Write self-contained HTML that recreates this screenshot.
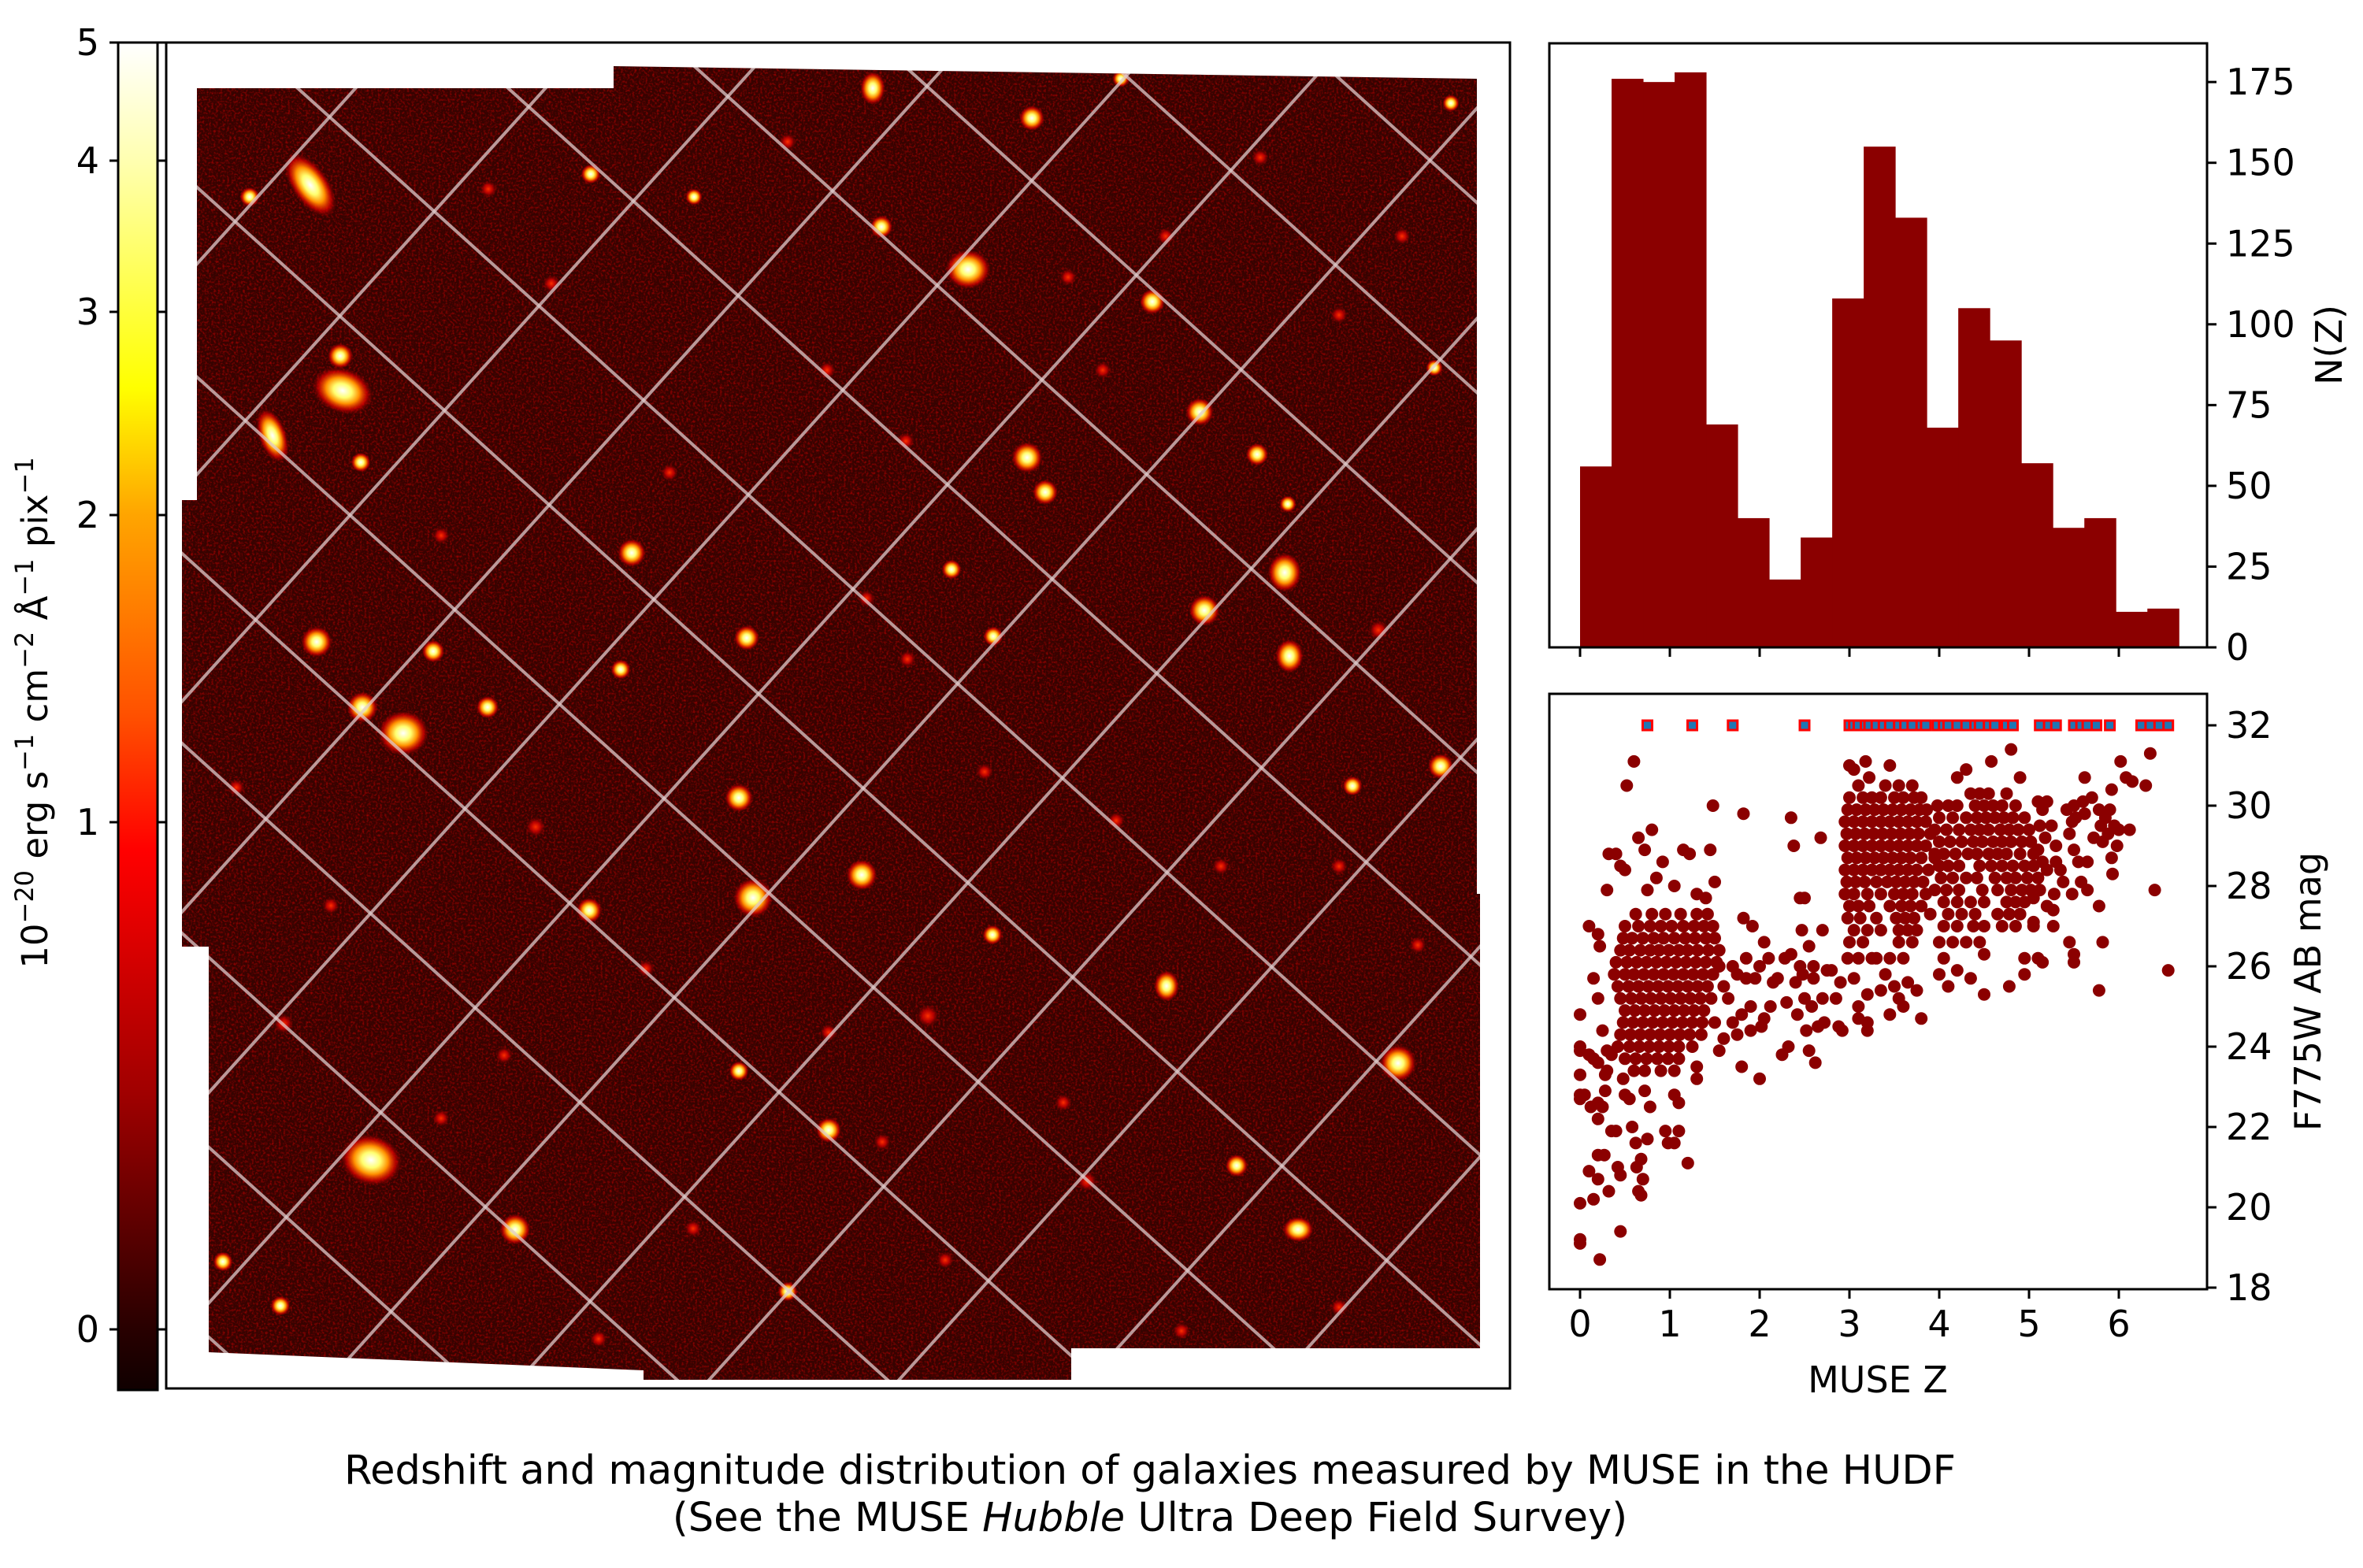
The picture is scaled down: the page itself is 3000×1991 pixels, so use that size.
<!DOCTYPE html>
<html><head><meta charset="utf-8">
<style>
html,body{margin:0;padding:0;background:#fff;width:3000px;height:1991px;overflow:hidden;}
svg{display:block;font-family:"DejaVu Sans","Liberation Sans",sans-serif;}
</style></head>
<body>
<svg id="fig" width="3000" height="1991" viewBox="0 0 3000 1991" xmlns="http://www.w3.org/2000/svg">
<defs>
<linearGradient id="cmap" x1="0" y1="0" x2="0" y2="1">
<stop offset="0" stop-color="#ffffff"/>
<stop offset="0.088" stop-color="#ffffb0"/>
<stop offset="0.256" stop-color="#ffff00"/>
<stop offset="0.35" stop-color="#ffa500"/>
<stop offset="0.5" stop-color="#ff5000"/>
<stop offset="0.6" stop-color="#ff0000"/>
<stop offset="0.78" stop-color="#a00000"/>
<stop offset="0.955" stop-color="#280000"/>
<stop offset="1" stop-color="#100000"/>
</linearGradient>
<radialGradient id="src-bright">
<stop offset="0" stop-color="#ffffff"/>
<stop offset="0.3" stop-color="#ffff70"/>
<stop offset="0.55" stop-color="#ff9000"/>
<stop offset="0.8" stop-color="#e00000" stop-opacity="0.7"/>
<stop offset="1" stop-color="#800000" stop-opacity="0"/>
</radialGradient>
<radialGradient id="src-faint">
<stop offset="0" stop-color="#ff3000"/>
<stop offset="0.5" stop-color="#d00000" stop-opacity="0.8"/>
<stop offset="1" stop-color="#700000" stop-opacity="0"/>
</radialGradient>
<filter id="noise" x="0" y="0" width="100%" height="100%">
<feTurbulence type="fractalNoise" baseFrequency="0.35" numOctaves="2" seed="3"/>
<feColorMatrix type="matrix" values="0 0 0 0 0.75  0 0 0 0 0  0 0 0 0 0  2 0 0 0 -0.9"/>
</filter>
<clipPath id="fieldClip"><polygon id="fieldPoly" points="250,112 779,112 779,84 1875,100 1875,1135 1879,1135 1879,1712 1360,1712 1360,1752 817,1752 817,1740 265,1717 265,1202 231,1202 231,635 250,635"/></clipPath>
</defs>

<!-- colorbar -->
<g>
<rect x="150" y="54" width="50" height="1711" fill="url(#cmap)" stroke="#000" stroke-width="3"/>
<g id="cbTicks"></g>
<text transform="translate(60,905) rotate(-90)" text-anchor="middle" font-size="45">10<tspan dy="-18" font-size="32">−20</tspan><tspan dy="18"> erg s</tspan><tspan dy="-18" font-size="32">−1</tspan><tspan dy="18"> cm</tspan><tspan dy="-18" font-size="32">−2</tspan><tspan dy="18"> Å</tspan><tspan dy="-18" font-size="32">−1</tspan><tspan dy="18"> pix</tspan><tspan dy="-18" font-size="32">−1</tspan></text>
</g>

<!-- image panel -->
<g>
<rect x="211" y="54" width="1706" height="1709" fill="#fff" stroke="#000" stroke-width="3"/>
<g clip-path="url(#fieldClip)">
<rect x="220" y="80" width="1670" height="1680" fill="#360300"/>
<rect x="220" y="80" width="1670" height="1680" filter="url(#noise)" opacity="0.7"/>
<g id="sources"></g>
<g id="grid" transform="rotate(42.06 963 881)" stroke="#e0cccc" stroke-opacity="0.75" stroke-width="4"></g>
</g>
</g>

<!-- histogram -->
<g>
<g id="histBars"></g>
<rect x="1967" y="55" width="835" height="767" fill="none" stroke="#000" stroke-width="3"/>
<g id="histAxes"></g>
<text transform="translate(2957,438) rotate(-90)" text-anchor="middle" dominant-baseline="central" font-size="46">N(Z)</text>
</g>

<!-- scatter -->
<g>
<rect x="1967" y="881" width="835" height="756" fill="none" stroke="#000" stroke-width="3"/>
<g id="scatterPts"></g>
<g id="limitPts"></g>
<g id="scatterAxes"></g>
<text x="2384" y="1768" text-anchor="middle" font-size="46">MUSE Z</text>
<text transform="translate(2930,1259) rotate(-90)" text-anchor="middle" dominant-baseline="central" font-size="46">F775W AB mag</text>
</g>

<!-- caption -->
<text x="1460" y="1884" text-anchor="middle" font-size="51">Redshift and magnitude distribution of galaxies measured by MUSE in the HUDF</text>
<text x="1460" y="1944" text-anchor="middle" font-size="51">(See the MUSE <tspan font-style="italic">Hubble</tspan> Ultra Deep Field Survey)</text>
</svg>

<script>
// ---------- data ----------
const histCounts = [56,176,175,178,69,40,21,34,108,155,133,68,105,95,57,37,40,11,12];
const histBinWidth = 0.351;
const histYTicks = [0,25,50,75,100,125,150,175];
const zTicks = [0,1,2,3,4,5,6];
const magTicks = [18,20,22,24,26,28,30,32];
const cbTickValues = [0,1,2,3,4,5];
const cbTickY = [1688,1044,654,396,204,54]; // nonlinear colour stretch

// dense low-z cluster: [mag, [z...]]
const clusterLowZ = [
[27.3,[0.62,0.8,0.95,1.12,1.3,1.42]],
[27.0,[0.5,0.65,0.78,0.9,1.02,1.15,1.27,1.38,1.48]],
[26.7,[0.48,0.58,0.7,0.82,0.93,1.05,1.17,1.28,1.4,1.5]],
[26.4,[0.45,0.55,0.67,0.78,0.88,0.99,1.1,1.2,1.31,1.43,1.55]],
[26.1,[0.4,0.52,0.63,0.74,0.85,0.96,1.07,1.18,1.29,1.4,1.52]],
[25.8,[0.38,0.5,0.6,0.71,0.82,0.93,1.04,1.15,1.26,1.37,1.48]],
[25.5,[0.42,0.54,0.65,0.76,0.87,0.98,1.09,1.2,1.31,1.42]],
[25.2,[0.45,0.57,0.68,0.79,0.9,1.01,1.12,1.23,1.34,1.46]],
[24.9,[0.5,0.61,0.72,0.83,0.94,1.05,1.16,1.27,1.38]],
[24.6,[0.48,0.59,0.7,0.81,0.92,1.03,1.14,1.25,1.36]],
[24.3,[0.45,0.56,0.67,0.78,0.89,1.0,1.11,1.22,1.35]],
[24.0,[0.42,0.55,0.66,0.77,0.88,0.99,1.1,1.25]],
[23.7,[0.5,0.62,0.74,0.86,0.98,1.1]],
[23.4,[0.6,0.72,0.9,1.05]]
];
const clusterZ3 = [
[30.5,[3.1,3.4,3.55,3.7]],
[30.2,[3.0,3.15,3.25,3.35,3.5,3.6,3.72,3.8]],
[29.9,[2.98,3.08,3.18,3.28,3.38,3.48,3.58,3.68,3.78,3.86]],
[29.6,[2.95,3.05,3.15,3.25,3.35,3.45,3.55,3.65,3.75,3.85]],
[29.3,[2.97,3.07,3.17,3.27,3.37,3.47,3.57,3.67,3.77,3.9]],
[29.0,[2.95,3.05,3.15,3.25,3.35,3.45,3.55,3.65,3.75,3.85]],
[28.7,[2.98,3.08,3.18,3.28,3.38,3.48,3.58,3.68,3.8,3.95]],
[28.4,[2.95,3.05,3.15,3.25,3.35,3.45,3.55,3.65,3.75,3.88]],
[28.1,[2.97,3.07,3.17,3.3,3.42,3.52,3.62,3.72,3.82]],
[27.8,[2.95,3.05,3.2,3.35,3.5,3.6,3.7,3.85]],
[27.5,[3.0,3.1,3.22,3.45,3.58,3.68,3.8]],
[27.2,[2.98,3.12,3.3,3.52,3.62,3.72]],
[26.9,[3.05,3.2,3.35,3.55,3.65,3.75]],
[26.6,[3.0,3.15,3.55,3.7]],
[26.2,[2.98,3.1,3.25,3.45,3.6]]
];
const clusterZ4 = [
[30.3,[4.35,4.45,4.55,4.75]],
[30.0,[3.98,4.1,4.2,4.4,4.5,4.6,4.7,4.85]],
[29.7,[4.0,4.15,4.3,4.42,4.52,4.62,4.72,4.82,4.95]],
[29.4,[3.95,4.08,4.22,4.35,4.45,4.55,4.68,4.78,4.88,5.0]],
[29.1,[4.0,4.12,4.25,4.38,4.48,4.6,4.7,4.8,4.92,5.02]],
[28.8,[3.95,4.05,4.18,4.32,4.42,4.55,4.65,4.75,4.9,5.05]],
[28.5,[4.0,4.1,4.22,4.45,4.58,4.7,4.82,4.95,5.05]],
[28.2,[4.02,4.15,4.3,4.42,4.62,4.75,4.85,4.98]],
[27.9,[3.95,4.08,4.22,4.48,4.65,4.8,4.92,5.02]],
[27.6,[4.05,4.2,4.35,4.5,4.75,4.85,4.95]],
[27.3,[4.1,4.25,4.4,4.65,4.78,4.9]],
[27.0,[4.05,4.2,4.38,4.5,4.7,4.85,5.05]],
[26.6,[4.0,4.15,4.3,4.45]]
];
// individual galaxies [z, mag]
const sparseLowZ = [[0,24.8],[0,24],[0,23.9],[0,23.3],[0,22.8],[0,22.7],[0,20.1],[0,19.2],[0,19.1],[0.05,22.8],[0.1,23.8],[0.1,20.9],[0.12,22.5],[0.15,20.2],[0.2,22.6],[0.2,22.2],[0.2,21.3],[0.2,20.7],[0.22,18.7],[0.25,22.5],[0.27,21.3],[0.28,22.9],[0.3,23.4],[0.32,20.4],[0.35,21.9],[0.4,21.9],[0.42,21],[0.45,20.8],[0.45,19.4],[0.48,23.2],[0.5,22.8],[0.55,22.7],[0.58,22],[0.62,21.6],[0.63,21],[0.65,20.4],[0.68,20.3],[0.7,20.7],[0.68,21.2],[0.75,21.7],[0.78,22.5],[0.72,22.9],[0.95,21.9],[0.98,21.6],[1.05,21.6],[1.1,21.9],[1.1,22.6],[1.2,21.1],[1.05,22.8],[0.1,27],[0.2,26.8],[0.22,26.5],[0.3,27.9],[0.32,28.8],[0.4,28.8],[0.45,28.5],[0.5,28.4],[0.52,30.5],[0.6,31.1],[0.65,29.2],[0.72,28.9],[0.8,29.4],[0.75,27.9],[0.85,28.2],[0.92,28.6],[1.05,28],[1.15,28.9],[1.22,28.8],[1.3,27.8],[1.45,28.9],[1.5,28.1],[1.48,30],[1.4,27.7],[1.82,29.8],[0.15,25.7],[0.2,25.2],[0.25,24.4],[0.3,23.9],[0.35,23.8],[0.2,23.6],[0.15,23.7],[0.28,23.3],[1.3,23.5],[1.3,23.2],[1.6,24.2],[1.55,23.9],[1.5,24.6]];
const sparseMidZ = [[1.55,26],[1.6,25.5],[1.65,25.2],[1.7,24.6],[1.75,24.3],[1.8,23.5],[1.8,24.8],[1.85,26.2],[1.85,25.7],[1.9,25],[1.9,24.4],[1.92,27],[1.95,25.7],[2,26],[2,23.2],[2.02,24.5],[2.05,26.6],[2.1,26.2],[2.12,25],[2.2,25.7],[2.25,23.8],[2.28,26.2],[2.3,25.1],[2.32,24],[2.35,26.3],[2.35,29.7],[2.38,29],[2.4,25.6],[2.42,24.8],[2.45,27.7],[2.47,26.9],[2.48,25.8],[2.5,25.2],[2.5,27.7],[2.52,24.4],[2.55,26.5],[2.55,23.9],[2.58,25],[2.6,25.7],[2.62,23.6],[2.65,24.5],[2.68,29.2],[2.7,26.9],[2.7,25.2],[2.72,24.6],[2.75,25.9],[2.8,25.9],[2.85,25.2],[2.88,24.5],[2.9,25.6],[2.92,24.4],[2.05,24.7],[1.7,26],[1.75,25.8],[1.82,27.2],[2.15,25.6],[2.45,26],[2.6,26]];
const sparseHighZ = [[3,31],[3.05,30.9],[3.18,31.1],[3.45,31],[3.22,30.7],[3.3,26.2],[3.4,25.8],[3.35,25.4],[3.2,25.3],[3.5,25.5],[3.55,25.2],[3.45,24.8],[3.6,25],[3.65,25.6],[3.75,25.4],[3.8,24.7],[3.1,24.7],[3.2,24.6],[3.2,24.4],[3.05,25.7],[3.1,25],[3.9,27.3],[4.2,30.7],[4.3,30.9],[4.58,31.1],[4.8,31.4],[4.9,30.7],[4.95,26.2],[4.95,25.8],[4.5,26.3],[4.35,25.7],[4.1,25.5],[4.5,25.3],[4.78,25.5],[4.0,25.8],[4.05,26.2],[4.2,25.9],[5.05,27.1],[5.1,30.1],[5.15,29.9],[5.2,30.1],[5.12,29.5],[5.18,29.2],[5.1,28.9],[5.15,28.6],[5.2,28.4],[5.1,28.2],[5.12,27.9],[5.05,27.7],[5.2,27.5],[5.25,29.5],[5.3,29],[5.3,28.6],[5.28,27.8],[5.27,27.4],[5.27,27],[5.35,28.4],[5.38,28.1],[5.42,29.9],[5.45,29.3],[5.5,30],[5.52,29.7],[5.5,28.9],[5.55,28.6],[5.48,27.8],[5.58,28.1],[5.6,30.1],[5.62,29.8],[5.65,28.6],[5.65,27.9],[5.62,30.7],[5.7,30.2],[5.72,29.2],[5.78,29.9],[5.8,29.5],[5.82,29.1],[5.85,29.7],[5.88,29.3],[5.9,29.9],[5.92,28.7],[5.93,28.3],[5.95,29.5],[5.98,29],[5.92,30.4],[6.0,29.4],[6.02,31.1],[6.08,30.7],[6.12,29.4],[6.15,30.6],[6.3,30.5],[6.35,31.3],[6.4,27.9],[6.55,25.9],[5.78,27.5],[5.82,26.6],[5.78,25.4],[5.45,26.6],[5.5,26.3],[5.5,26.1],[5.15,26.1],[5.1,26.2],[5.48,29.6]];
// undetected (upper limit) galaxies plotted at mag 32
const limitZ = [0.75,1.25,1.7,2.5,3.0,3.05,3.1,3.18,3.22,3.3,3.38,3.45,3.55,3.62,3.7,3.8,3.85,3.98,4.05,4.1,4.2,4.3,4.4,4.45,4.55,4.62,4.75,4.82,5.12,5.22,5.3,5.5,5.58,5.65,5.75,5.9,6.25,6.35,6.45,6.55];
const limitMag = 32;

// image sources: [x, y, rx, ry, angle, bright]
const galaxySources = [
[394,235,13,26,-35,1],[317,250,7,7,0,1],[432,452,9,9,0,1],[435,496,22,16,20,1],[346,553,10,20,-20,1],[458,587,7,7,0,1],
[750,221,7,7,0,1],[881,250,6,6,0,1],[1108,112,9,12,0,1],[1310,150,9,9,0,1],[1423,100,6,6,0,1],[1842,131,6,6,0,1],
[1119,288,8,8,0,1],[1229,342,16,14,0,1],[1463,383,9,9,0,1],[1523,523,10,10,0,1],[1356,352,6,6,0,0],[1304,581,11,11,0,1],
[1327,625,9,9,0,1],[1596,577,8,8,0,1],[1635,640,6,6,0,1],[802,702,10,10,0,1],[1208,723,7,7,0,1],[1631,727,12,14,0,1],
[1529,775,11,11,0,1],[1637,833,10,12,0,1],[402,815,11,11,0,1],[550,827,8,8,0,1],[948,810,9,9,0,1],[788,850,7,7,0,1],
[1152,837,6,6,0,0],[1261,808,7,7,0,1],[460,898,11,11,0,1],[512,931,18,16,0,1],[619,898,8,8,0,1],[938,1013,10,10,0,1],
[1094,1111,11,11,0,1],[956,1140,14,14,0,1],[748,1156,9,9,0,1],[1481,1252,9,11,0,1],[1775,1350,13,13,0,1],[1052,1435,9,9,0,1],
[471,1473,22,18,15,1],[654,1561,11,11,0,1],[1648,1561,11,9,0,1],[283,1602,7,7,0,1],[356,1658,7,7,0,1],[1829,973,9,9,0,1],
[1821,467,6,6,0,1],[1052,1311,6,6,0,0],[1260,1187,7,7,0,1],[1417,1042,6,6,0,0],[1717,998,7,7,0,1],[938,1360,7,7,0,1],
[1178,1290,8,8,0,0],[640,1340,6,6,0,0],[1570,1480,8,8,0,1],[1380,1500,7,7,0,0],[1000,1640,7,7,0,1],[760,1700,6,6,0,0],
[1700,1660,6,6,0,0],[1500,1690,6,6,0,0],[1200,1600,6,6,0,0],[880,1560,6,6,0,0],[560,1420,6,6,0,0],[360,1300,7,7,0,0],
[1750,800,7,7,0,0],[1780,300,6,6,0,0],[1600,200,6,6,0,0],[1000,180,6,6,0,0],[700,360,6,6,0,0],[560,680,6,6,0,0],
[1050,470,6,6,0,0],[1150,560,6,6,0,0],[1400,470,6,6,0,0],[1700,400,6,6,0,0],[300,1000,6,6,0,0],[680,1050,7,7,0,0],
[820,1230,6,6,0,0],[1250,980,6,6,0,0],[1550,1100,6,6,0,0],[1800,1200,6,6,0,0],[1350,1400,6,6,0,0],[420,1150,6,6,0,0],
[1100,760,6,6,0,0],[850,600,6,6,0,0],[620,240,6,6,0,0],[1480,300,6,6,0,0],[1700,1100,6,6,0,0],[1120,1450,6,6,0,0]
];

// ---------- helpers ----------
const NS = "http://www.w3.org/2000/svg";
function mk(tag, attrs, parent){const e=document.createElementNS(NS,tag);for(const k in attrs)e.setAttribute(k,attrs[k]);parent.appendChild(e);return e;}

const zToX = z => 2006 + z*114;
const histToY = n => 822 - n*4.102;
const magToY = m => 1635 - (m-18)*51;

// ---------- colorbar ticks ----------
const cbG = document.getElementById('cbTicks');
cbTickValues.forEach((v,i)=>{
  const y = cbTickY[i];
  const t1 = mk('line',{x1:139,x2:150,y1:y,y2:y,stroke:'#000','stroke-width':3},cbG);
  
  
  const t2 = mk('line',{x1:200,x2:211,y1:y,y2:y,stroke:'#000','stroke-width':3},cbG);
  
  
  const tx = mk('text',{x:126,y:y,'text-anchor':'end','dominant-baseline':'central','font-size':46},cbG);
  tx.textContent = v;
  
  
});

// ---------- image sources ----------
const srcG = document.getElementById('sources');
galaxySources.forEach(s=>{
  const e = mk('ellipse',{cx:s[0],cy:s[1],rx:s[2]*1.8,ry:s[3]*1.8,transform:`rotate(${s[4]} ${s[0]} ${s[1]})`,fill:s[5]?'url(#src-bright)':'url(#src-faint)'},srcG);
  
  
});
const gridG = document.getElementById('grid');
for(let k=-8;k<=8;k++){
  const off = k*179;
  const a = mk('line',{x1:-400,x2:2400,y1:881+off,y2:881+off},gridG);
  
  
  const b = mk('line',{x1:963+off,x2:963+off,y1:-600,y2:2400},gridG);
  
  
}

// ---------- histogram ----------
const hb = document.getElementById('histBars');
histCounts.forEach((c,i)=>{
  const x0 = zToX(i*histBinWidth), x1 = zToX((i+1)*histBinWidth);
  const r = mk('rect',{x:x0,y:histToY(c),width:x1-x0+0.5,height:histToY(0)-histToY(c),fill:'#8b0000'},hb);
  
  
});
const ha = document.getElementById('histAxes');
histYTicks.forEach(v=>{
  const y = histToY(v);
  const t = mk('line',{x1:2802,x2:2814,y1:y,y2:y,stroke:'#000','stroke-width':3},ha);
  
  
  const l = mk('text',{x:2826,y:y,'dominant-baseline':'central','font-size':46},ha);
  l.textContent = v;
  
  
});
zTicks.forEach(z=>{
  const x = zToX(z);
  const t = mk('line',{x1:x,x2:x,y1:822,y2:834,stroke:'#000','stroke-width':3},ha);
  
  
});

// ---------- scatter ----------
const sp = document.getElementById('scatterPts');
function dot(z,m){
  const c = mk('circle',{cx:zToX(z),cy:magToY(m),r:8,fill:'#8b0000'},sp);
  
  
}
[clusterLowZ,clusterZ3,clusterZ4].forEach(cl=>cl.forEach(row=>row[1].forEach(z=>dot(z,row[0]))));
[sparseLowZ,sparseMidZ,sparseHighZ].forEach(arr=>arr.forEach(p=>dot(p[0],p[1])));
const lp = document.getElementById('limitPts');
limitZ.forEach(z=>{
  const x = zToX(z), y = magToY(limitMag);
  const s = mk('rect',{x:x-6,y:y-6,width:12,height:12,fill:'#1f77b4',stroke:'#ff0000','stroke-width':3},lp);
  
  
});
const sa = document.getElementById('scatterAxes');
magTicks.forEach(v=>{
  const y = magToY(v);
  const t = mk('line',{x1:2802,x2:2814,y1:y,y2:y,stroke:'#000','stroke-width':3},sa);
  
  
  const l = mk('text',{x:2826,y:y,'dominant-baseline':'central','font-size':46},sa);
  l.textContent = v;
  
  
});
zTicks.forEach(z=>{
  const x = zToX(z);
  const t = mk('line',{x1:x,x2:x,y1:1637,y2:1649,stroke:'#000','stroke-width':3},sa);
  
  
  const l = mk('text',{x:x,y:1697,'text-anchor':'middle','font-size':46},sa);
  l.textContent = z;
  
  
});
</script>
</body></html>
